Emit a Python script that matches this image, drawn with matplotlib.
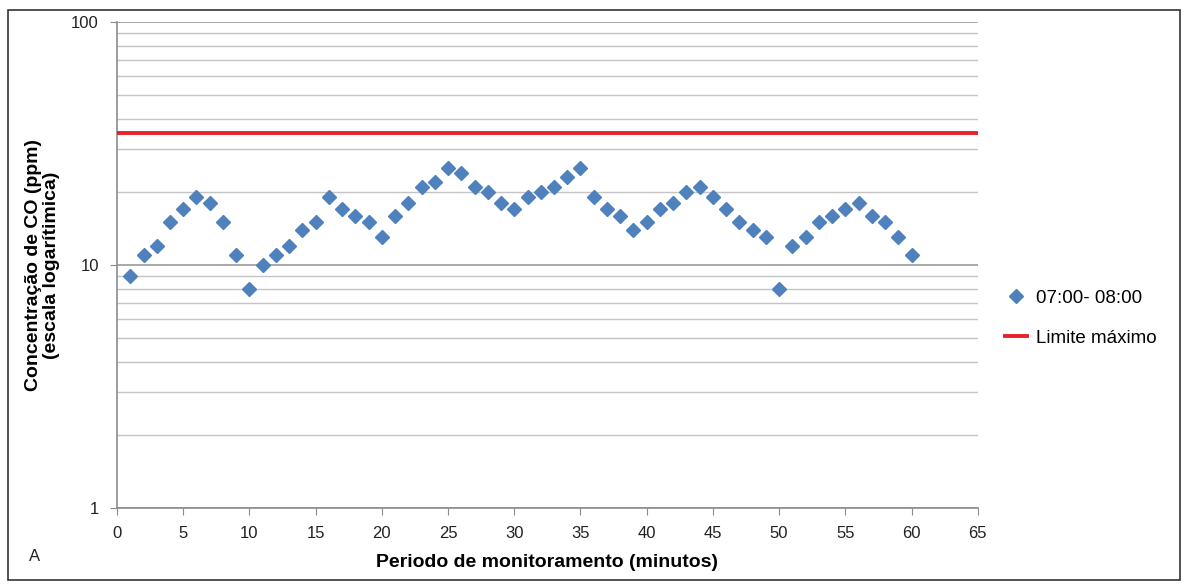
import numpy as np
import matplotlib
matplotlib.use("Agg")
import matplotlib.pyplot as plt
from matplotlib.patches import Rectangle
from matplotlib.lines import Line2D
from matplotlib.ticker import FixedLocator, NullFormatter

plt.rcParams['font.family'] = ['Liberation Sans', 'DejaVu Sans']

# dados
minutos = list(range(1, 61))
co_ppm = [9, 11, 12, 15, 17, 19, 18, 15, 11, 8,
          10, 11, 12, 14, 15, 19, 17, 16, 15, 13,
          16, 18, 21, 22, 25, 24, 21, 20, 18, 17,
          19, 20, 21, 23, 25, 19, 17, 16, 14, 15,
          17, 18, 20, 21, 19, 17, 15, 14, 13, 8,
          12, 13, 15, 16, 17, 18, 16, 15, 13, 11]
limite = 35
serie_label = '07:00- 08:00'
limite_label = 'Limite máximo'
x_ticks = list(range(0, 70, 5))
y_ticks = [1, 10, 100]

azul = '#4F81BD'
vermelho = '#E8222A'

fig = plt.figure(figsize=(11.88, 5.84), dpi=100)
ax = fig.add_axes([0.0985, 0.130, 0.7245, 0.832])

ax.set_yscale('log')
ax.set_ylim(1, 100)
ax.set_xlim(0, 65)

# grade horizontal (maior e menor)
minors = [m * d for d in (1, 10) for m in range(2, 10)]
ax.yaxis.set_minor_locator(FixedLocator(minors))
ax.yaxis.set_minor_formatter(NullFormatter())
ax.set_yticks(y_ticks)
ax.set_yticklabels([str(v) for v in y_ticks])
ax.set_xticks(x_ticks)
ax.grid(True, which='major', axis='y', color='#9a9a9a', lw=1.2)
ax.grid(True, which='minor', axis='y', color='#c4c4c4', lw=1.0)
ax.set_axisbelow(True)

ax.axhline(limite, color=vermelho, lw=2.8, zorder=3)
ax.plot(minutos, co_ppm, ls='none', marker='D', ms=7, color=azul,
        mec=azul, zorder=4)

for s in ('top', 'right'):
    ax.spines[s].set_visible(False)
for s in ('left', 'bottom'):
    ax.spines[s].set_color('#8c8c8c')
    ax.spines[s].set_linewidth(1.2)

ax.tick_params(axis='both', which='major', direction='out', length=5,
               color='#8c8c8c', labelsize=12, labelcolor='#222222')
ax.tick_params(axis='y', which='minor', length=0)
ax.tick_params(axis='x', pad=8)
ax.tick_params(axis='y', pad=8)

ax.set_xlabel('Periodo de monitoramento (minutos)', fontsize=14,
              fontweight='bold', labelpad=9)
ax.set_ylabel('Concentração de CO (ppm)\n(escala logarítimica)', fontsize=14,
              fontweight='bold', labelpad=8, linespacing=1.05)

handles = [Line2D([], [], ls='none', marker='D', ms=7, color=azul),
           Line2D([], [], color=vermelho, lw=2.8)]
fig.legend(handles, [serie_label, limite_label], loc='center left',
           bbox_to_anchor=(0.832, 0.455), frameon=False, fontsize=13.5,
           labelspacing=1.2, handlelength=1.15, handletextpad=0.5)

fig.text(0.024, 0.04, 'A', fontsize=12, color='#222222')

fig.patches.append(Rectangle((0.007, 0.006), 0.986, 0.977, transform=fig.transFigure,
                             fill=False, ec='#333333', lw=1.2))

fig.savefig('out.png', dpi=100)
